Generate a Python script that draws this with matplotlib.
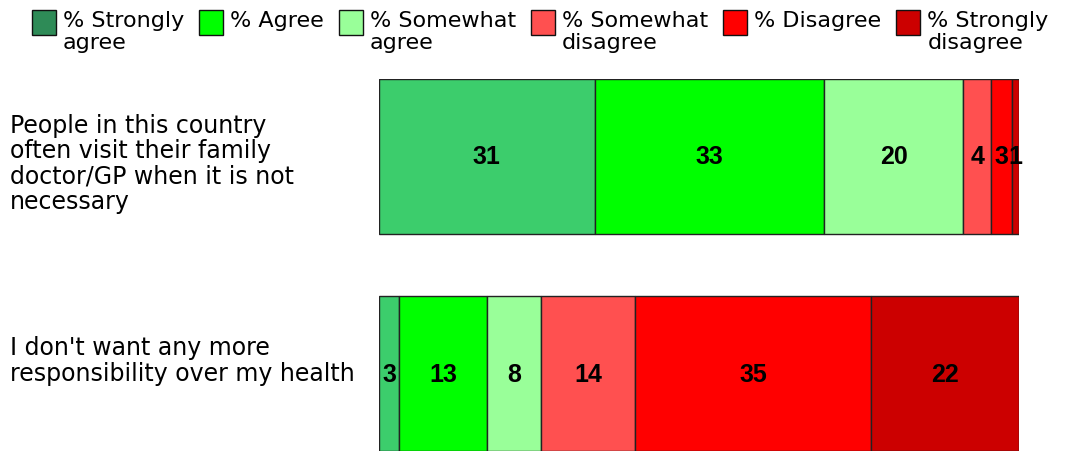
import matplotlib
matplotlib.use("Agg")
import matplotlib.pyplot as plt
from matplotlib.patches import Rectangle
import numpy as np

plt.rcParams['font.family'] = ['DejaVu Sans']

categories = ["People in this country\noften visit their family\ndoctor/GP when it is not\nnecessary",
              "I don't want any more\nresponsibility over my health"]
series = ["% Strongly\nagree", "% Agree", "% Somewhat\nagree", "% Somewhat\ndisagree",
          "% Disagree", "% Strongly\ndisagree"]
values_row1 = [31, 33, 20, 4, 3, 1]
values_row2 = [3, 13, 8, 14, 35, 22]
bar_colors = ["#3ccd6c", "#00ff00", "#99ff99", "#ff5050", "#ff0000", "#cc0000"]
legend_colors = ["#2e8b57", "#00ff00", "#99ff99", "#ff5050", "#ff0000", "#cc0000"]

rows = [values_row1, values_row2]
ypos = [1, 0]
label_y = [1 - 164/452, 1 - 361/452]

W, H = 1068, 452
fig = plt.figure(figsize=(W/100, H/100), dpi=100)
ax = fig.add_axes([379/W, 0, 640/W, 372/H])

for vals, y in zip(rows, ypos):
    vals = np.array(vals, dtype=float)
    share = vals / vals.sum() * 100
    left = 0.0
    for v, s, c in zip(vals, share, bar_colors):
        ax.barh(y, s, left=left, height=0.714, color=c, edgecolor="#222222", linewidth=1.0)
        ax.text(left + s / 2, y, f"{int(v)}", ha="center", va="center",
                fontsize=18, fontweight="bold", color="black",
                family="Liberation Sans")
        left += s

ax.set_xlim(0, 100)
ax.set_ylim(-0.357, 1.357)
ax.axis("off")

for cat, ly in zip(categories, label_y):
    fig.text(10/W, ly, cat, ha="left", va="center", fontsize=17, linespacing=1.08)

# manual legend row
renderer = fig.canvas.get_renderer()
x = 32.0
sw, sh = 24.0, 25.0
top = 11.0
for lab, c in zip(series, legend_colors):
    fig.patches.append(Rectangle((x/W, 1 - (top + sh)/H), sw/W, sh/H,
                                 transform=fig.transFigure, facecolor=c,
                                 edgecolor="#111111", linewidth=1.0))
    tx = x + sw + 7
    t = fig.text(tx/W, 1 - 11/H, lab, ha="left", va="top", fontsize=16, linespacing=1.12)
    bb = t.get_window_extent(renderer=renderer)
    x = tx + bb.width + 15

fig.savefig("out.png", dpi=100)
